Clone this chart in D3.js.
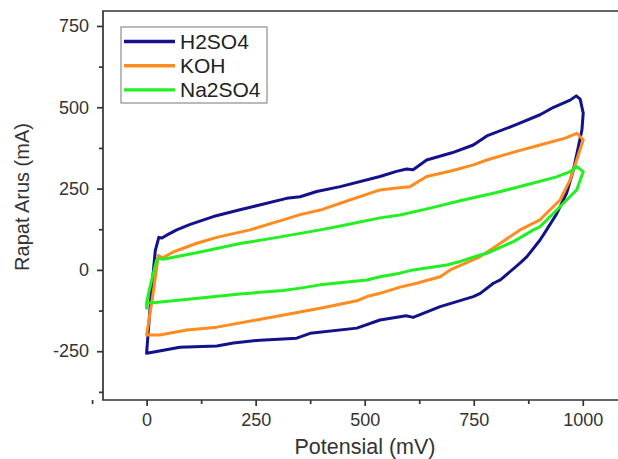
<!DOCTYPE html>
<html>
<head>
<meta charset="utf-8">
<script src="https://cdn.jsdelivr.net/npm/d3@7/dist/d3.min.js"></script>
<style>
  html, body { margin: 0; padding: 0; background: #fff; }
  svg { display: block; font-family: "Liberation Sans", Arial, sans-serif; }
</style>
</head>
<body>
<svg id="chart" width="618" height="459"></svg>
<script>
// ---- data (Potensial mV, Rapat Arus mA) ----
const seriesNames = ["H2SO4", "KOH", "Na2SO4"];
const seriesColors = ["#12128a", "#ff8c1e", "#22f022"];

const h2so4 = [
  [0,-256],[10,-80],[20,60],[28,100],[35,98],[45,106],[69,123],[100,140],[153,164],[214,185],
  [245,195],[321,220],[352,225],[390,241],[444,256],[535,287],[573,303],[596,310],[611,308],
  [642,338],[700,360],[749,384],[780,412],[850,448],[902,477],[933,500],[971,522],[985,535],
  [994,525],[1001,482],[998,430],[990,379],[978,305],[963,236],[940,172],[917,123],[902,92],
  [872,41],[856,21],[811,-31],[795,-41],[765,-72],[749,-82],[673,-113],[611,-146],[595,-141],
  [581,-144],[535,-154],[482,-179],[375,-195],[344,-210],[260,-216],[199,-225],[161,-234],
  [76,-238],[23,-251],[0,-256]
];
const koh = [
  [0,-200],[14,-80],[27,44],[32,40],[38,38],[61,55],[115,82],[161,100],[237,123],[313,154],
  [352,170],[398,184],[444,205],[535,246],[573,252],[604,256],[642,287],[700,305],[749,323],
  [780,338],[850,365],[902,384],[960,405],[986,420],[1001,400],[986,338],[971,277],[948,215],
  [925,185],[902,154],[856,123],[800,72],[765,41],[696,0],[673,-21],[619,-41],[581,-53],
  [535,-72],[505,-82],[482,-95],[398,-118],[336,-133],[252,-154],[161,-176],
  [92,-185],[30,-200],[0,-200]
];
const na2so4 = [
  [0,-118],[0,-100],[10,-40],[23,31],[30,35],[38,33],[115,53],[214,81],[300,100],[398,123],
  [444,135],[535,160],[581,169],[650,190],[726,215],[800,237],[887,267],[940,286],[971,302],
  [986,318],[1001,302],[986,246],[963,215],[933,174],[902,133],[887,123],[841,87],[780,51],
  [765,46],[719,26],[688,15],[611,0],[581,-10],[535,-21],[505,-31],[398,-46],[352,-56],
  [313,-63],[214,-74],[84,-92],[20,-100],[0,-102]
];
const seriesData = [h2so4, koh, na2so4];

const xMajorTicks = [0, 250, 500, 750, 1000];
const xMinorTicks = [-125, 125, 375, 625, 875, 1125];
const yMajorTicks = [-250, 0, 250, 500, 750];
const yMinorTicks = [-375, -125, 125, 375, 625];

// ---- layout ----
const svg = d3.select("#chart");
const mLeft = 103, mTop = 11, mBottom = 400, mRight = 640;

const x = d3.scaleLinear().domain([-100, 1100]).range([103, 626.4]);
const y = d3.scaleLinear().domain([-400, 796]).range([mBottom, mTop]);

const axisColor = "#333";
const fmt = d => String(d);

// frame
svg.append("path")
  .attr("d", `M${mRight},${mTop}H${mLeft}V${mBottom}H${mRight}`)
  .attr("fill", "none").attr("stroke", axisColor).attr("stroke-width", 1.7);

// x axis
const gx = svg.append("g").attr("transform", `translate(0,${mBottom})`)
  .call(d3.axisBottom(x).tickValues(xMajorTicks).tickFormat(fmt).tickSize(6).tickSizeOuter(0).tickPadding(7));
const gxm = svg.append("g").attr("transform", `translate(0,${mBottom})`)
  .call(d3.axisBottom(x).tickValues(xMinorTicks).tickSize(4).tickFormat(""));
// y axis
const gy = svg.append("g").attr("transform", `translate(${mLeft},0)`)
  .call(d3.axisLeft(y).tickValues(yMajorTicks).tickFormat(fmt).tickSize(6).tickSizeOuter(0).tickPadding(8));
const gym = svg.append("g").attr("transform", `translate(${mLeft},0)`)
  .call(d3.axisLeft(y).tickValues(yMinorTicks).tickSize(4).tickFormat(""));

[gx, gxm, gy, gym].forEach(g => {
  g.select(".domain").remove();
  g.selectAll(".tick line").attr("stroke", axisColor).attr("stroke-width", 1.7);
  g.selectAll(".tick text")
    .attr("fill", "#333")
    .style("font-size", "18px")
    .style("font-family", "'Liberation Sans', Arial, sans-serif");
});

// axis titles
svg.append("text")
  .attr("x", 365).attr("y", 453.5)
  .attr("text-anchor", "middle")
  .attr("fill", "#333")
  .style("font-size", "21.5px")
  .text("Potensial (mV)");
svg.append("text")
  .attr("transform", "translate(29,197) rotate(-90)")
  .attr("text-anchor", "middle")
  .attr("fill", "#333")
  .style("font-size", "20px")
  .text("Rapat Arus (mA)");

// curves
const line = d3.line().x(d => x(d[0])).y(d => y(d[1])).curve(d3.curveLinear);
seriesData.forEach((data, i) => {
  svg.append("path")
    .datum(data)
    .attr("d", line)
    .attr("fill", "none")
    .attr("stroke", seriesColors[i])
    .attr("stroke-width", 3)
    .attr("stroke-linejoin", "round")
    .attr("stroke-linecap", "round");
});

// legend
const lg = svg.append("g");
lg.append("rect")
  .attr("x", 121).attr("y", 27).attr("width", 146).attr("height", 76)
  .attr("fill", "#fff").attr("stroke", "#777").attr("stroke-width", 1);
seriesNames.forEach((name, i) => {
  const yy = 41.5 + i * 24.2;
  lg.append("line")
    .attr("x1", 124).attr("x2", 175).attr("y1", yy).attr("y2", yy)
    .attr("stroke", seriesColors[i]).attr("stroke-width", 3.4);
  lg.append("text")
    .attr("x", 180).attr("y", yy).attr("dy", "0.36em")
    .attr("fill", "#222")
    .style("font-size", "21px")
    .text(name);
});
</script>
</body>
</html>
